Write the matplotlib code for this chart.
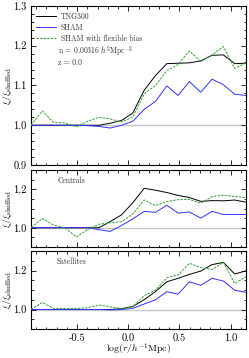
import numpy as np
import matplotlib
matplotlib.use("Agg")
import matplotlib.pyplot as plt
from matplotlib.ticker import MultipleLocator, FormatStrFormatter

plt.rcParams['font.family'] = ['cmr10', 'DejaVu Serif']
plt.rcParams['mathtext.fontset'] = 'cm'
plt.rcParams['axes.formatter.use_mathtext'] = True
plt.rcParams['axes.unicode_minus'] = True

logr = np.linspace(-0.95, 1.15, 20)

all_tng = [1.0, 1.0, 1.0, 1.0, 1.0, 1.0, 1.0, 1.005, 1.012, 1.031, 1.088, 1.125, 1.155, 1.156,
           1.157, 1.162, 1.176, 1.177, 1.155, 1.156]
all_sham = [1.0, 1.0, 1.0, 1.0, 1.0, 0.999, 0.997, 0.993, 1.0, 1.01, 1.04, 1.06, 1.099, 1.075,
            1.11, 1.083, 1.116, 1.102, 1.078, 1.075]
all_flex = [1.0, 1.036, 1.007, 1.006, 0.996, 1.01, 1.02, 1.016, 1.008, 1.021, 1.079, 1.1, 1.137,
            1.153, 1.187, 1.16, 1.177, 1.198, 1.143, 1.157]

cen_tng = [1.0, 1.0, 1.0, 1.0, 1.0, 1.0, 1.0, 1.032, 1.067, 1.13, 1.205, 1.195, 1.183, 1.168,
           1.157, 1.137, 1.141, 1.14, 1.144, 1.133]
cen_sham = [1.0, 1.0, 1.0, 1.0, 1.0, 1.0, 0.99, 0.981, 1.012, 1.046, 1.085, 1.08, 1.117, 1.076,
            1.082, 1.05, 1.085, 1.069, 1.069, 1.069]
cen_flex = [1.0, 1.048, 1.014, 1.0, 0.952, 0.991, 1.018, 1.026, 1.032, 1.072, 1.144, 1.115,
            1.136, 1.146, 1.147, 1.128, 1.162, 1.17, 1.162, 1.156]

sat_tng = [1.0, 1.0, 1.0, 1.0, 1.0, 1.0, 1.0, 1.0, 1.004, 1.016, 1.05, 1.092, 1.142, 1.16,
           1.18, 1.197, 1.23, 1.242, 1.182, 1.198]
sat_sham = [1.0, 1.0, 1.0, 1.0, 1.0, 1.0, 1.0, 0.998, 1.0, 1.006, 1.028, 1.05, 1.091, 1.079,
            1.142, 1.124, 1.16, 1.146, 1.099, 1.088]
sat_flex = [1.0, 1.036, 1.005, 1.005, 1.005, 1.009, 1.023, 1.014, 1.005, 1.014, 1.071, 1.099,
            1.163, 1.177, 1.237, 1.215, 1.205, 1.242, 1.133, 1.169]

labels = ["TNG300", "SHAM", "SHAM with flexible bias"]
panel_titles = [None, "Centrals", "Satellites"]

W, H = 249, 358
fig = plt.figure(figsize=(W / 100, H / 100), dpi=100)

def ax_rect(top, bottom, left=31, right=246):
    return [left / W, 1 - bottom / H, (right - left) / W, (bottom - top) / H]

axes = [fig.add_axes(ax_rect(6, 165)),
        fig.add_axes(ax_rect(170, 247)),
        fig.add_axes(ax_rect(251, 329))]

data = [(all_tng, all_sham, all_flex), (cen_tng, cen_sham, cen_flex), (sat_tng, sat_sham, sat_flex)]

for k, (ax, (t, s, f)) in enumerate(zip(axes, data)):
    ax.axhline(1.0, color='#c8c8c8', lw=1.0, zorder=1)
    ax.plot(logr, t, color='black', lw=0.7, label=labels[0], zorder=3)
    ax.plot(logr, s, color='#3333ff', lw=0.7, label=labels[1], zorder=3)
    ax.plot(logr, f, color='#33a033', lw=0.7, ls=(0, (2.5, 1.2)), label=labels[2], zorder=3)
    ax.set_xlim(-0.95, 1.15)
    ax.set_ylim(0.9, 1.3)
    ax.xaxis.set_major_locator(MultipleLocator(0.5))
    ax.xaxis.set_minor_locator(MultipleLocator(0.1))
    if k == 0:
        ax.yaxis.set_major_locator(MultipleLocator(0.1))
        ax.yaxis.set_minor_locator(MultipleLocator(0.02))
    else:
        ax.yaxis.set_major_locator(MultipleLocator(0.2))
        ax.yaxis.set_minor_locator(MultipleLocator(0.05))
    ax.yaxis.set_major_formatter(FormatStrFormatter('%.1f'))
    ax.xaxis.set_major_formatter(FormatStrFormatter('%.1f'))
    ax.tick_params(which='both', direction='in', top=True, right=True, labelsize=7.5, width=0.6)
    ax.tick_params(which='major', length=3.5, pad=3)
    ax.tick_params(which='minor', length=1.8)
    for sp in ax.spines.values():
        sp.set_linewidth(0.8)
    ax.set_ylabel(r'$\xi/\xi_{\rm shuffled}$', fontsize=7)
    ax.yaxis.set_label_coords(-0.08, 0.5)
    if k < 2:
        ax.tick_params(labelbottom=False)
    if panel_titles[k]:
        ax.text(0.19, 0.86, panel_titles[k], transform=ax.transAxes, fontsize=5.5,
                ha='center', va='center', color='#333333')

axes[2].set_xlabel(r'$\log(r/h^{-1}{\rm Mpc})$', fontsize=7)
axes[2].xaxis.set_label_coords(0.5, -0.165)

leg = axes[0].legend(loc='upper left', bbox_to_anchor=(0.0, 0.995), frameon=False,
                     fontsize=5.5, handlelength=2.6, handletextpad=0.6, labelspacing=0.35,
                     borderaxespad=0.3)
for txt in leg.get_texts():
    txt.set_color('#333333')
axes[0].text(0.126, 0.71, r'n = 0.00316 $h^3{\rm Mpc}^{-3}$', transform=axes[0].transAxes,
             fontsize=5.5, va='center', color='#333333')
axes[0].text(0.126, 0.64, 'z = 0.0', transform=axes[0].transAxes, fontsize=5.5, va='center',
             color='#333333')

fig.savefig('out.png', dpi=100)
